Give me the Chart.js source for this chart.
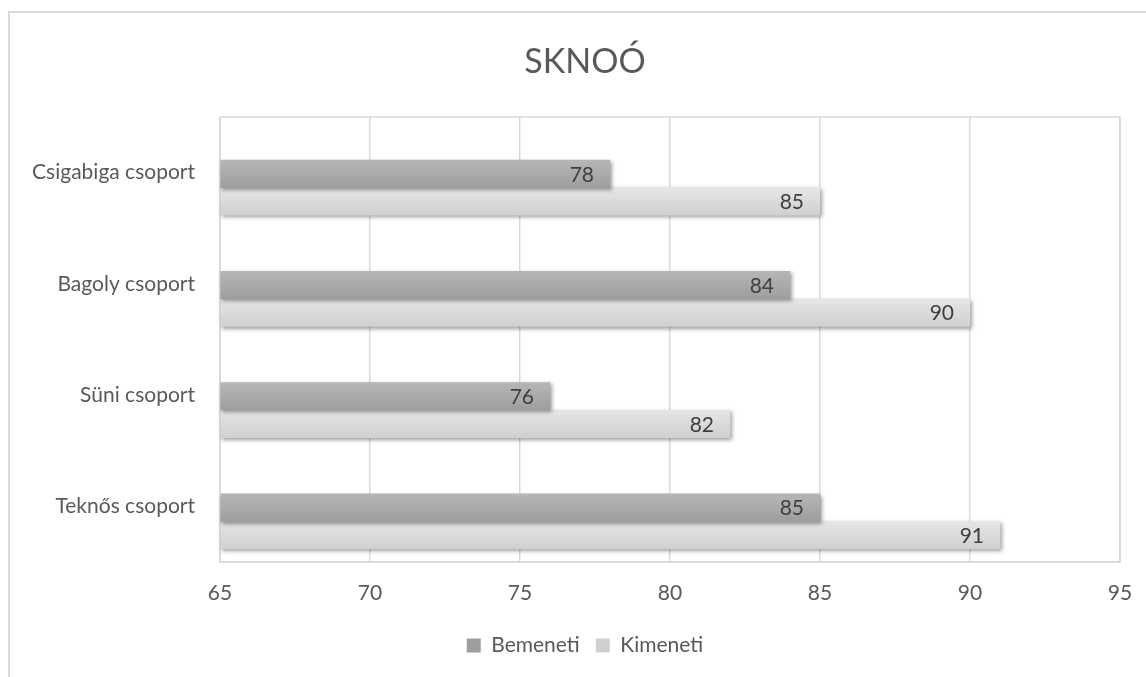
<!DOCTYPE html>
<html>
<head>
<meta charset="utf-8">
<script src="https://cdn.jsdelivr.net/npm/chart.js@4.4.1/dist/chart.umd.min.js"></script>
<style>
  html, body { margin: 0; padding: 0; background: #ffffff; overflow: hidden; width: 1146px; height: 677px; }
  #frame { position: absolute; left: 8px; top: 11px; width: 1150px; height: 666px;
           border-left: 2px solid #d9d9d9; border-top: 2px solid #d9d9d9; }
  #wrap { position: absolute; left: 0; top: 0; width: 1150px; height: 666px; }
</style>
</head>
<body>
<div id="frame"><div id="wrap"><canvas id="c"></canvas></div></div>
<script>
// ---- data ----
const chartTitle = 'SKNOÓ';
const categories = ['Csigabiga csoport', 'Bagoly csoport', 'Süni csoport', 'Teknős csoport'];
const seriesNames = ['Bemeneti', 'Kimeneti'];
const bemeneti = [78, 84, 76, 85];
const kimeneti = [85, 90, 82, 91];
const xMin = 65, xMax = 95, xStep = 5;

// ---- styles ----
const FONT = 'Lato, "Open Sans", sans-serif';
const FS = 21;
const BAR = 27.5;
const BAR_SHIFT = 15;
const GRID = '#d9d9d9';

function gradFill(topCol, botCol, flat) {
  return (c) => {
    const chart = c.chart;
    const y = chart.scales && chart.scales.y;
    if (!y || c.dataIndex === undefined || !chart.chartArea) return flat;
    const center = y.getPixelForValue(c.dataIndex);
    const top = center - BAR + c.datasetIndex * BAR;
    const g = chart.ctx.createLinearGradient(0, top, 0, top + BAR);
    g.addColorStop(0, topCol);
    g.addColorStop(1, botCol);
    return g;
  };
}

const barEffects = {
  id: 'barEffects',
  beforeDatasetsDraw(chart) {
    const ctx = chart.ctx;
    ctx.save();
    ctx.translate(0, BAR_SHIFT);
    ctx.shadowColor = 'rgba(0,0,0,0.38)';
    ctx.shadowBlur = 4;
    ctx.shadowOffsetX = 2;
    ctx.shadowOffsetY = 2;
  },
  afterDatasetsDraw(chart) {
    const ctx = chart.ctx;
    ctx.shadowColor = 'rgba(0,0,0,0)';
    ctx.shadowBlur = 0;
    ctx.shadowOffsetX = 0;
    ctx.shadowOffsetY = 0;
    ctx.font = FS + 'px ' + FONT;
    ctx.fillStyle = '#404040';
    ctx.textAlign = 'right';
    ctx.textBaseline = 'middle';
    chart.data.datasets.forEach((ds, di) => {
      const meta = chart.getDatasetMeta(di);
      meta.data.forEach((el, i) => {
        ctx.fillText(String(ds.data[i]), el.x - 16, el.y + 1);
      });
    });
    ctx.restore();
  }
};

const plotFrame = {
  id: 'plotFrame',
  beforeDatasetsDraw(chart) {
    const a = chart.chartArea;
    const ctx = chart.ctx;
    ctx.save();
    ctx.strokeStyle = GRID;
    ctx.lineWidth = 1.5;
    ctx.strokeRect(a.left, a.top, a.right - a.left, a.bottom - a.top);
    ctx.restore();
  }
};

new Chart(document.getElementById('c'), {
  type: 'bar',
  data: {
    labels: categories,
    datasets: [
      { label: seriesNames[0], data: bemeneti, base: xMin,
        backgroundColor: gradFill('#b6b6b6', '#9e9e9e', '#a9a9a9'), borderWidth: 0,
        barThickness: BAR, clip: false },
      { label: seriesNames[1], data: kimeneti, base: xMin,
        backgroundColor: gradFill('#e6e6e6', '#d0d0d0', '#dcdcdc'), borderWidth: 0,
        barThickness: BAR, clip: false }
    ]
  },
  options: {
    indexAxis: 'y',
    responsive: true,
    maintainAspectRatio: false,
    animation: false,
    layout: { padding: { left: 0, right: 0, top: 0, bottom: 13 } },
    scales: {
      x: {
        min: xMin, max: xMax,
        ticks: { stepSize: xStep, color: '#595959', font: { family: FONT, size: FS }, padding: 19 },
        grid: { color: GRID, lineWidth: 1.5, drawTicks: false },
        border: { display: true, color: GRID, width: 1.5 },
        afterFit(s) { s.height = 57; }
      },
      y: {
        ticks: { color: '#595959', font: { family: FONT, size: FS }, padding: 25 },
        grid: { display: false, drawTicks: false },
        border: { display: false },
        afterFit(s) { s.width = 210; }
      },
      yRight: {
        type: 'category', labels: categories, position: 'right', display: true,
        ticks: { display: false }, grid: { display: false, drawTicks: false }, border: { display: false },
        afterFit(s) { s.width = 40; }
      }
    },
    plugins: {
      title: {
        display: true, text: chartTitle, color: '#595959',
        font: { family: FONT, size: 34, weight: 'normal', lineHeight: 1.2 },
        padding: { top: 28.6, bottom: 34.6 }
      },
      legend: {
        position: 'bottom',
        labels: { color: '#595959', font: { family: FONT, size: FS }, boxWidth: 14, boxHeight: 14, padding: 16 }
      },
      tooltip: { enabled: false }
    }
  },
  plugins: [plotFrame, barEffects]
});
</script>
</body>
</html>
